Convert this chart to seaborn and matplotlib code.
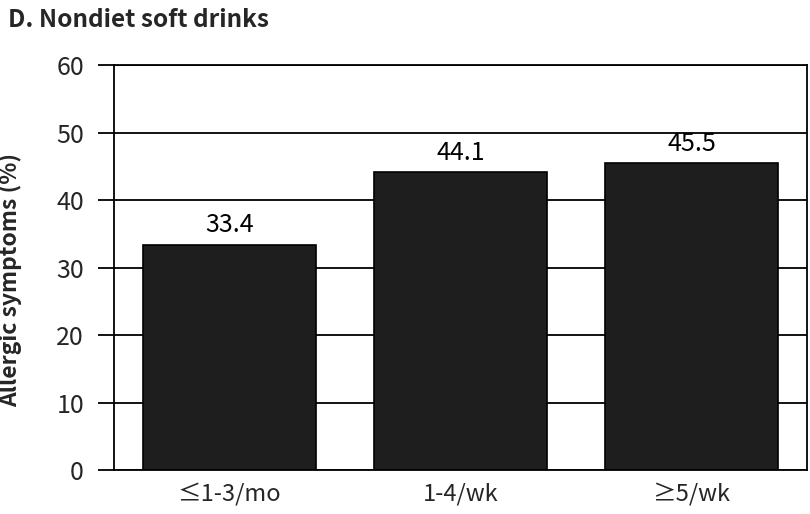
import matplotlib
matplotlib.use("Agg")
import matplotlib.pyplot as plt
import seaborn as sns
import pandas as pd

# data
categories = ["≤1-3/mo", "1-4/wk", "≥5/wk"]
values = [33.4, 44.1, 45.5]
yticks = [0, 10, 20, 30, 40, 50, 60]

sns.set_theme(style="white")
plt.rcParams['font.family'] = ['Noto Sans CJK KR', 'DejaVu Sans']

df = pd.DataFrame({"freq": categories, "pct": values})

fig = plt.figure(figsize=(8.1, 5.14), dpi=100)
ax = fig.add_axes([0.1407, 0.0856, 0.8556, 0.7879])

sns.barplot(data=df, x="freq", y="pct", order=categories, color="#1e1e1e",
            edgecolor="black", linewidth=1.2, width=0.75, saturation=1, ax=ax)

# value labels on top of bars
for i, v in enumerate(values):
    ax.text(i, v + 0.9, f"{v:.1f}", ha="center", va="bottom", fontsize=18, color="black")

ax.set_ylim(0, 60)
ax.set_xlim(-0.5, 2.5)
ax.set_yticks(yticks)
ax.yaxis.grid(True, color="black", linewidth=1.3)
ax.set_axisbelow(True)
ax.tick_params(axis="y", length=11.5, width=1.3, color="black", labelsize=18, pad=10, left=True)
ax.tick_params(axis="x", length=0, labelsize=17, pad=9)
for s in ax.spines.values():
    s.set_color("black")
    s.set_linewidth(1.3)

ax.set_xlabel("")
ax.set_ylabel("Allergic symptoms (%)", fontsize=16.5, fontweight="bold")
# label is anchored by its right edge (text bottom)
ax.yaxis.set_label_coords(-0.132, 0.47)

fig.text(0.01, 0.962, "D. Nondiet soft drinks", fontsize=17.5, fontweight="bold", va="center", ha="left")

fig.savefig("out.png", dpi=100)
